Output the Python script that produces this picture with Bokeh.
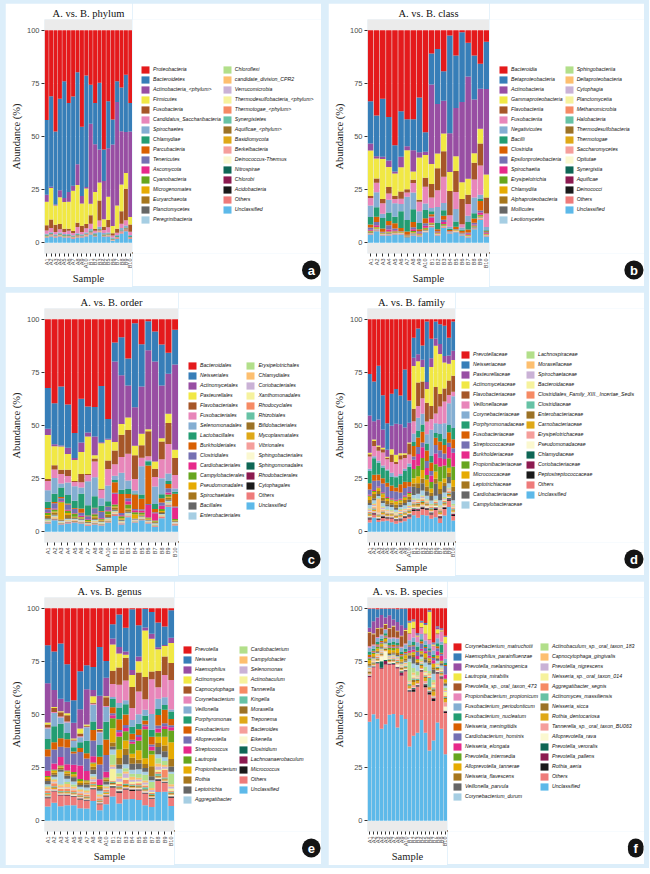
import math
from bokeh.plotting import figure
from bokeh.models import ColumnDataSource, Legend, LegendItem, Range1d, FixedTicker, Title, Spacer
from bokeh.layouts import column, row
from bokeh.embed import file_html
from bokeh.resources import INLINE

SERIF = "Liberation Serif"
SANS = "Liberation Sans"

samples = ["A1", "A2", "A3", "A4", "A5", "A6", "A7", "A8", "A9", "A10",
           "B1", "B2", "B3", "B4", "B5", "B6", "B7", "B8", "B9", "B10"]

PALETTE = ["#E41A1C", "#377EB8", "#984EA3", "#F1E844", "#A65628", "#E886BA", "#84AED2", "#239D72",
           "#D95F02", "#7570B3", "#E7298A", "#66A61E", "#E6AB02", "#A6761D", "#666666", "#A6CEE3",
           "#B2DF8A", "#FDBF6F", "#CAB2D6", "#F6F29D", "#F68A64", "#66C2A5", "#9C7226", "#DFA817",
           "#F59E9B", "#FBF8D0", "#0E6655", "#8C1A50", "#1A1A1A", "#EE7B7A", "#5DB9E9"]

# ---------------- phylum ----------------
phylum_names = ["Proteobacteria", "Bacteroidetes", "Actinobacteria_<phylum>", "Firmicutes", "Fusobacteria",
                "Candidatus_Saccharibacteria", "Spirochaetes", "Chlamydiae", "Parcubacteria", "Tenericutes",
                "Ascomycota", "Cyanobacteria", "Microgenomates", "Euryarchaeota", "Planctomycetes",
                "Peregrinibacteria", "Chloroflexi", "candidate_division_CPR2", "Verrucomicrobia",
                "Thermodesulfobacteria_<phylum>", "Thermotogae_<phylum>", "Synergistetes", "Aquificae_<phylum>",
                "Basidiomycota", "Berkelbacteria", "Deinococcus-Thermus", "Nitrospirae", "Chlorobi",
                "Acidobacteria", "Others", "Unclassified"]
phylum_values = [
    [42.6, 31.4, 48, 32.5, 24.2, 34.5, 31.4, 20, 45.7, 21.5, 26, 34.5, 25, 56.4, 33.7, 42.2, 24.2, 27.3, 21.2, 34.5],
    [35.4, 43, 34.5, 43.5, 55.3, 42.2, 42.2, 43.7, 32.8, 52.9, 18.5, 19.5, 31.7, 14.9, 22.3, 11.8, 9.8, 20.7, 27.3, 13.5],
    [3.3, 0.6, 0.5, 3.3, 1.8, 4.6, 2.4, 9.9, 3.5, 0.8, 38, 22.7, 15.7, 18.1, 23, 38.5, 49.1, 25.3, 19.5, 40.5],
    [11.2, 15, 9, 12.7, 12.7, 12.7, 19, 17.9, 10.5, 16.8, 5.5, 17.3, 8.6, 3.6, 11, 3.5, 10.9, 12.7, 7.5, 3.5],
    [2.5, 4, 3.5, 2.5, 1.5, 1, 1, 2, 3, 2, 4, 1, 9.5, 1.5, 3.5, 1, 2, 6, 15, 3.5],
    [1.5, 2, 1, 1.5, 1, 1.5, 1, 3, 1, 2, 2.5, 1, 3, 1.5, 2.5, 1, 1, 2, 2.5, 1.5],
    [0.5, 0.5, 0.5, 0.5, 0.5, 0.5, 0.5, 0.5, 0.5, 0.5, 0.8, 0.5, 1, 0.5, 0.5, 0.5, 0.5, 1, 1, 0.5],
    [0.3, 0.3, 0.2, 0.3, 0.2, 0.3, 0.2, 0.3, 0.2, 0.3, 0.4, 0.3, 0.3, 0.2, 0.3, 0.2, 0.3, 0.3, 0.4, 0.3],
    [0.1, 0.2, 0.1, 0.1, 0.1, 0.1, 0.1, 0.2, 0.1, 0.1, 0.1, 0.1, 0.2, 0.1, 0.1, 0.1, 0.1, 0.1, 0.2, 0.1],
    [0.1, 0.1, 0.1, 0.1, 0.1, 0.1, 0.1, 0.1, 0.1, 0.1, 0.2, 0.1, 0.1, 0.1, 0.1, 0.1, 0.1, 0.1, 0.1, 0.1],
    [.1, .05, .05, .1, .05, .05, .05, .1, .05, .1, .1, .05, .1, .05, .05, .05, .05, .1, .1, .05],
    [.05, .05, .05, .05, .05, .05, .05, .1, .05, .05, .1, .05, .05, .05, .05, .05, .05, .05, .1, .05],
    [.05, .1, .05, .05, .05, .05, .05, .05, .05, .1, .05, .05, .1, .05, .05, .05, .05, .05, .05, .05],
    [.05, .05, .05, .05, .1, .05, .05, .05, .05, .05, .05, .05, .05, .05, .1, .05, .05, .05, .05, .05],
    [.03, .05, .03, .05, .03, .03, .03, .05, .03, .05, .05, .03, .05, .03, .03, .03, .03, .05, .05, .03],
    [.03, .03, .03, .03, .03, .03, .03, .03, .03, .03, .05, .03, .03, .03, .03, .03, .03, .03, .05, .03],
    [.03, .03, .02, .03, .02, .03, .02, .03, .02, .03, .03, .03, .03, .02, .03, .02, .03, .03, .03, .03],
    [.02, .03, .02, .02, .02, .02, .02, .03, .02, .02, .03, .02, .03, .02, .02, .02, .02, .02, .03, .02],
    [.02, .02, .02, .02, .02, .02, .02, .02, .02, .02, .03, .02, .02, .02, .02, .02, .02, .02, .02, .02],
    [.02, .02, .01, .02, .02, .01, .02, .02, .01, .02, .02, .02, .02, .01, .02, .01, .02, .02, .02, .02],
    [.01, .02, .01, .01, .01, .01, .01, .02, .01, .01, .02, .01, .02, .01, .01, .01, .01, .01, .02, .01],
    [.02, .02, .01, .02, .01, .01, .01, .02, .01, .02, .02, .01, .02, .01, .01, .01, .01, .02, .02, .01],
    [.01, .01, .01, .01, .01, .01, .01, .01, .01, .01, .02, .01, .01, .01, .01, .01, .01, .01, .02, .01],
    [.02, .01, .01, .01, .01, .01, .01, .01, .01, .01, .01, .01, .01, .01, .01, .01, .01, .01, .01, .01],
    [.01, .01, .01, .01, .01, .01, .01, .01, .01, .01, .01, .01, .02, .01, .01, .01, .01, .01, .01, .01],
    [.01, .01, .01, .01, .01, .01, .01, .01, .01, .01, .01, .01, .01, .01, .01, .01, .01, .01, .01, .02],
    [.01, .01, .01, .01, .01, .01, .01, .01, .01, .01, .01, .01, .01, .01, .01, .01, .01, .01, .01, .01],
    [.01, .01, .01, .01, .01, .01, .01, .01, .01, .01, .01, .01, .01, .01, .01, .01, .01, .01, .01, .01],
    [.01, .01, .01, .01, .01, .01, .01, .01, .01, .01, .01, .01, .01, .01, .01, .01, .01, .01, .01, .01],
    [0.3, 0.4, 0.3, 0.4, 0.3, 0.3, 0.3, 0.4, 0.3, 0.4, 0.5, 0.3, 0.4, 0.3, 0.4, 0.2, 0.3, 0.5, 0.5, 0.3],
    [2.5, 3, 2.5, 3, 2.5, 2.5, 2, 2.5, 2.5, 3, 4, 3, 5, 3, 3, 1, 2, 4.5, 5.5, 2],
]

# ---------------- class ----------------
class_names = ["Bacteroidia", "Betaproteobacteria", "Actinobacteria", "Gammaproteobacteria", "Flavobacteriia",
               "Fusobacteriia", "Negativicutes", "Bacilli", "Clostridia", "Epsilonproteobacteria", "Spirochaetia",
               "Erysipelotrichia", "Chlamydiia", "Alphaproteobacteria", "Mollicutes", "Leotiomycetes",
               "Sphingobacteriia", "Deltaproteobacteria", "Cytophagia", "Planctomycetia", "Methanomicrobia",
               "Halobacteria", "Thermodesulfobacteria", "Thermotogae", "Saccharomycetes", "Opitutae",
               "Synergistia", "Aquificae", "Deinococci", "Others", "Unclassified"]
class_values = [
    [33.7, 40.3, 32.5, 41, 54.5, 38.7, 42.3, 42.3, 32, 48.3, 11.2, 9, 19.5, 2.5, 12, 1, 6, 12, 16, 5.5],
    [20, 19.2, 27.5, 20.5, 12.5, 21.8, 12.7, 14.7, 26, 9.2, 14.8, 26, 14, 46.5, 25, 33, 16, 21, 12, 22.5],
    [3.3, 1, 1, 3, 1, 5, 2, 10, 2.5, 1.5, 38, 23.5, 15.5, 18.5, 23, 38, 48.5, 25.5, 19, 40.5],
    [21.5, 9.5, 19, 9.5, 10.5, 11.5, 18.5, 4, 20, 10.8, 9.5, 7, 8.5, 9, 7, 8, 7.5, 4.5, 7, 11],
    [1, 2, 2, 3, 1.5, 3.5, 1.5, 1.5, 1, 4.2, 6.5, 10.5, 12, 11.5, 10, 12, 4.5, 8, 10.5, 7.5],
    [3.5, 4.5, 5, 3, 2, 2.5, 2, 4.5, 4.5, 8, 5, 8, 12.5, 5.5, 8, 1.5, 5.5, 8.5, 14, 6.5],
    [5.5, 7, 2, 6, 6.5, 3.5, 11, 8, 5.5, 3, 1.5, 7.5, 3.5, 1, 6, 1, 3, 7.5, 2, 1.5],
    [3.5, 4.5, 5, 4, 3, 8, 5.5, 6, 3, 4, 1.5, 3, 2.5, 0.5, 2.5, 0.5, 3.5, 2.5, 1, 0.5],
    [1.5, 2.5, 1.5, 2, 2.5, 1.5, 1.5, 2.5, 1, 2.3, 1, 1, 2, 0.5, 1, 1, 1.5, 2, 4.5, 0.5],
    [1, 1.5, 0.3, 2, 0.8, 0.2, 0.2, 1, 0.5, 1.2, 0.5, 0.3, 1, 0.1, 0.2, 0.2, 0.5, 0.8, 1, 0.3],
    [0.5, 0.8, 0.2, 1, 0.5, 0.1, 0.1, 0.8, 0.5, 1, 2.5, 0.3, 1, 0.1, 0.1, 0.1, 0.5, 0.5, 1, 0.4],
    [0.3, 0.3, 0.2, 0.3, 0.3, 0.2, 0.2, 0.4, 0.3, 0.4, 0.3, 0.2, 0.3, 0.1, 0.2, 0.1, 0.2, 0.3, 0.5, 0.2],
    [0.3, 0.4, 0.2, 0.3, 0.2, 0.2, 0.1, 0.3, 0.2, 0.3, 0.3, 0.2, 0.3, 0.1, 0.2, 0.1, 0.2, 0.2, 0.4, 0.2],
    [0.2, 0.3, 0.1, 0.2, 0.2, 0.1, 0.1, 0.3, 0.2, 0.3, 0.3, 0.2, 0.2, 0.1, 0.1, 0.1, 0.2, 0.2, 0.3, 0.1],
    [.2, .1, .1, .2, .1, .1, .1, .2, .1, .2, .2, .1, .2, .1, .1, .1, .1, .2, .2, .1],
    [.1, .1, .05, .1, .05, .05, .05, .1, .05, .1, .1, .05, .1, .05, .05, .05, .05, .1, .1, .05],
    [.05, .05, .05, .05, .05, .05, .05, .1, .05, .05, .1, .05, .05, .05, .05, .05, .05, .05, .1, .05],
    [.05, .1, .05, .05, .05, .05, .05, .05, .05, .1, .05, .05, .1, .05, .05, .05, .05, .05, .05, .05],
    [.05, .05, .05, .05, .1, .05, .05, .05, .05, .05, .05, .05, .05, .05, .1, .05, .05, .05, .05, .05],
    [.03, .05, .03, .05, .03, .03, .03, .05, .03, .05, .05, .03, .05, .03, .03, .03, .03, .05, .05, .03],
    [.03, .03, .03, .03, .03, .03, .03, .03, .03, .03, .05, .03, .03, .03, .03, .03, .03, .03, .05, .03],
    [.02, .03, .02, .02, .02, .02, .02, .03, .02, .02, .03, .02, .03, .02, .02, .02, .02, .02, .03, .02],
    [.02, .02, .02, .02, .02, .02, .02, .02, .02, .02, .03, .02, .02, .02, .02, .02, .02, .02, .02, .02],
    [.02, .02, .01, .02, .02, .01, .02, .02, .01, .02, .02, .02, .02, .01, .02, .01, .02, .02, .02, .02],
    [.01, .02, .01, .01, .01, .01, .01, .02, .01, .01, .02, .01, .02, .01, .01, .01, .01, .01, .02, .01],
    [.01, .01, .01, .01, .01, .01, .01, .01, .01, .01, .02, .01, .01, .01, .01, .01, .01, .01, .02, .01],
    [.01, .01, .01, .01, .01, .01, .01, .01, .01, .01, .01, .01, .02, .01, .01, .01, .01, .01, .01, .01],
    [.01, .01, .01, .01, .01, .01, .01, .01, .01, .01, .01, .01, .01, .01, .01, .01, .01, .01, .01, .02],
    [.01, .01, .01, .01, .01, .01, .01, .01, .01, .01, .01, .01, .01, .01, .01, .01, .01, .01, .01, .01],
    [0.3, 0.4, 0.3, 0.4, 0.3, 0.3, 0.2, 0.4, 0.3, 0.4, 0.5, 0.3, 0.4, 0.2, 0.3, 0.2, 0.3, 0.4, 0.5, 0.3],
    [4, 5.5, 3.5, 3.5, 4, 4, 2.5, 3.5, 3, 5, 7.5, 3.5, 7, 4.5, 5, 3.5, 2.5, 6.5, 11, 3],
]

# ---------------- order ----------------
order_names = ["Bacteroidales", "Neisseriales", "Actinomycetales", "Pasteurellales", "Flavobacteriales",
               "Fusobacteriales", "Selenomonadales", "Lactobacillales", "Burkholderiales", "Clostridiales",
               "Cardiobacteriales", "Campylobacterales", "Pseudomonadales", "Spirochaetales", "Bacillales",
               "Enterobacteriales", "Erysipelotrichales", "Chlamydiales", "Coriobacteriales", "Xanthomonadales",
               "Rhodocyclales", "Rhizobiales", "Bifidobacteriales", "Mycoplasmatales", "Vibrionales",
               "Sphingobacteriales", "Sphingomonadales", "Rhodobacterales", "Cytophagales", "Others", "Unclassified"]
order_values = [
    [33, 40, 32, 40.5, 54.5, 38, 42, 42, 31.5, 48, 11, 8.5, 19, 2, 12, 1, 6, 12, 16, 5],
    [19.5, 19.5, 28, 20.5, 12, 21, 12.5, 14, 26.5, 9.5, 9, 18, 13, 40.5, 20, 14, 14.5, 19.5, 10, 16.5],
    [3, 1, 0.5, 3, 1, 4.5, 2, 9, 0.5, 0.5, 38, 23, 15.5, 18.5, 22.5, 38, 48.5, 25, 19, 40.5],
    [21, 9, 11, 7.5, 10, 10.5, 18, 1.5, 21.5, 10, 4, 5, 6, 4.5, 5.5, 1, 3.5, 1.5, 4.5, 4],
    [1, 2, 2, 3, 0.5, 4, 0.5, 1.5, 0.5, 4, 6.5, 10.5, 11.5, 11.5, 6, 12, 4, 8.5, 10, 8],
    [4.5, 4, 4.5, 3, 2, 2.5, 3, 7.5, 4, 8, 5.5, 7.5, 13, 5.5, 4, 2, 4.5, 9, 14, 6.5],
    [5.5, 7.5, 2, 6, 7, 3, 11.5, 9, 3.5, 7.5, 2, 8, 4, 1.5, 13.5, 0.5, 8.5, 7.5, 3.5, 1.5],
    [3, 4, 4.5, 4, 3.5, 7, 5, 5.5, 2.5, 2.5, 1, 2, 2.5, 0.5, 2, 2, 2.5, 2, 1.5, 1],
    [0.5, 0.5, 0.5, 0.5, 0.3, 2, 0.3, 0.3, 0.3, 0.3, 5, 9, 2, 7, 5, 18.5, 1.5, 2, 2, 6],
    [1.5, 2.5, 1.5, 2.5, 2, 1.5, 1.5, 2.5, 3, 1.5, 0.5, 1, 1.5, 0.5, 0.5, 0.5, 0.5, 1.5, 2, 0.5],
    [0.3, 0.5, 0.3, 0.5, 0.3, 0.5, 0.3, 0.3, 0.3, 0.5, 5, 0.5, 1.5, 1, 1, 6, 3.5, 1.5, 1, 5.5],
    [1, 1, 0.3, 1, 1.5, 0.3, 0.5, 1, 0.5, 1.5, 1, 1, 2, 1, 1, 0.5, 0.5, 1, 1, 0.5],
    [0.5, 0.5, 8, 1, 0.3, 0.3, 0.3, 0.5, 0.3, 0.3, 0.5, 0.5, 0.5, 2, 0.3, 0.5, 0.3, 0.5, 0.5, 0.3],
    [1, 1, 0.5, 1.5, 0.5, 0.3, 0.3, 0.8, 0.5, 1, 1, 0.3, 1, 0.2, 0.3, 0.2, 0.3, 0.5, 1, 0.3],
    [0.5, 0.4, 0.3, 0.4, 0.3, 0.5, 0.3, 0.4, 0.3, 0.4, 0.5, 0.3, 0.5, 0.3, 0.3, 0.3, 0.3, 0.4, 0.5, 0.3],
    [0.4, 0.3, 0.3, 0.3, 0.2, 0.3, 0.2, 0.3, 0.2, 0.3, 0.3, 0.3, 0.4, 0.2, 0.3, 0.2, 0.2, 0.3, 0.4, 0.2],
    [0.3, 0.3, 0.2, 0.3, 0.3, 0.2, 0.2, 0.4, 0.3, 0.4, 0.3, 0.2, 0.3, 0.1, 0.2, 0.1, 0.2, 0.3, 0.5, 0.2],
    [0.3, 0.4, 0.2, 0.3, 0.2, 0.2, 0.1, 0.3, 0.2, 0.3, 0.3, 0.2, 0.3, 0.1, 0.2, 0.1, 0.2, 0.2, 0.4, 0.2],
    [0.2, 0.2, 0.1, 0.2, 0.1, 0.2, 0.1, 0.2, 0.1, 0.2, 0.3, 0.2, 0.2, 0.2, 0.2, 0.2, 0.2, 0.2, 0.3, 0.2],
    [.1, .1, .1, .1, .1, .1, .1, .1, .1, .1, .2, .1, .1, .2, .1, .2, .1, .1, .1, .1],
    [.1, .1, .05, .1, .05, .1, .05, .1, .05, .1, .1, .1, .1, .1, .1, .1, .05, .1, .1, .1],
    [.05, .05, .05, .05, .05, .05, .05, .1, .05, .05, .1, .05, .05, .05, .05, .05, .05, .05, .1, .05],
    [.05, .1, .05, .05, .05, .05, .05, .05, .05, .1, .05, .05, .1, .05, .05, .05, .05, .05, .05, .05],
    [.05, .05, .05, .05, .1, .05, .05, .05, .05, .05, .05, .05, .05, .05, .1, .05, .05, .05, .05, .05],
    [.03, .05, .03, .05, .03, .03, .03, .05, .03, .05, .05, .03, .05, .03, .03, .03, .03, .05, .05, .03],
    [.03, .03, .03, .03, .03, .03, .03, .03, .03, .03, .05, .03, .03, .03, .03, .03, .03, .03, .05, .03],
    [.02, .03, .02, .02, .02, .02, .02, .03, .02, .02, .03, .02, .03, .02, .02, .02, .02, .02, .03, .02],
    [.02, .02, .02, .02, .02, .02, .02, .02, .02, .02, .03, .02, .02, .02, .02, .02, .02, .02, .02, .02],
    [.02, .02, .01, .02, .02, .01, .02, .02, .01, .02, .02, .02, .02, .01, .02, .01, .02, .02, .02, .02],
    [0.4, 0.5, 0.4, 0.5, 0.4, 0.4, 0.3, 0.5, 0.4, 0.5, 0.6, 0.4, 0.5, 0.3, 0.4, 0.3, 0.4, 0.5, 0.6, 0.4],
    [4, 5.5, 3.5, 4, 4.5, 4, 3, 3.5, 3, 4.5, 7.5, 3.5, 7, 4.5, 5.5, 4, 2.5, 6.5, 12, 3],
]

# ---------------- family ----------------
family_names = ["Prevotellaceae", "Neisseriaceae", "Pasteurellaceae", "Actinomycetaceae", "Flavobacteriaceae",
                "Veillonellaceae", "Corynebacteriaceae", "Porphyromonadaceae", "Fusobacteriaceae",
                "Streptococcaceae", "Burkholderiaceae", "Propionibacteriaceae", "Micrococcaceae",
                "Leptotrichiaceae", "Cardiobacteriaceae", "Campylobacteraceae", "Lachnospiraceae",
                "Moraxellaceae", "Spirochaetaceae", "Bacteroidaceae", "Clostridiales_Family_XIII._Incertae_Sedis",
                "Clostridiaceae", "Enterobacteriaceae", "Carnobacteriaceae", "Erysipelotrichaceae",
                "Pseudomonadaceae", "Chlamydiaceae", "Coriobacteriaceae", "Peptostreptococcaceae",
                "Others", "Unclassified"]
family_values = [
    [26.5, 30.5, 23.5, 35.5, 51, 35, 34, 37, 23.5, 37, 9, 4, 11, 1, 9, 1, 2, 3, 9, 1],
    [20, 19.5, 27, 16, 13, 15, 17, 14, 27, 10, 9.5, 11, 6, 26, 9, 7, 8, 14, 8.5, 13],
    [18, 9, 13, 8.5, 3.5, 11, 15, 14, 12, 9, 4, 3, 3, 3, 4, 3, 4, 3, 4, 4],
    [0.7, 0.7, 0.7, 0.7, 0.5, 2.5, 3.5, 1, 0.7, 0.5, 20.5, 9, 6, 6, 18, 17, 16, 12, 8, 7],
    [1, 2.5, 2, 1.5, 0.7, 3.5, 1, 2, 1.5, 5, 6, 10, 7, 8, 6, 11, 5, 6, 7, 7],
    [6, 5, 5, 6, 5, 5, 6, 7, 5, 4, 6, 5, 6.5, 5.5, 5, 4, 7, 10, 4, 2],
    [1, 1, 1, 1, 0.5, 2, 0.5, 1, 1, 1.5, 4, 5.5, 4.5, 4, 12, 4, 4, 7, 10.5, 14],
    [6, 8, 6, 5, 6, 4, 5, 4, 5, 7, 2, 3, 3, 3, 3, 2, 3, 3, 3.5, 5],
    [3, 3, 3, 2.5, 2, 2.5, 2, 4, 3, 2, 5, 4, 4.5, 4.5, 4, 3, 3.5, 4, 5, 4],
    [2.5, 4.5, 3, 4, 5, 3.5, 4, 3, 3.5, 2.5, 1.5, 3, 2, 3, 2, 3.5, 3, 2.5, 2, 2],
    [0.5, 0.5, 0.5, 0.5, 0.5, 0.5, 0.5, 0.5, 0.5, 0.5, 4.5, 5, 4.5, 3, 3, 4.5, 3.5, 3, 5.5, 6],
    [0.5, 0.5, 0.3, 0.5, 0.5, 0.5, 0.3, 0.5, 0.5, 0.5, 4.5, 4.5, 5, 2, 3, 3, 6, 6, 4.5, 6],
    [1.5, 1, 1.5, 1.5, 1, 1, 1.5, 1, 1, 1, 2.5, 3, 3.5, 3, 2, 3, 3, 2, 2.5, 3],
    [1.5, 2, 1.5, 1.5, 1.5, 1, 1.5, 1, 1.5, 1.5, 1.5, 2, 2, 2, 1.5, 2, 2, 1.5, 2, 2],
    [1, 1, 1, 1, 1, 1, 1, 1, 1, 1, 4, 2.5, 3, 2, 2, 5, 2.5, 3, 3, 4],
    [1.5, 1.5, 1, 1.5, 1.5, 1.5, 1, 1, 1.5, 1.5, 1.5, 2, 2, 1.5, 1.5, 1.5, 2, 2, 2, 1.5],
    [0.5, 0.4, 0.3, 0.5, 0.4, 0.3, 0.4, 0.5, 0.3, 0.4, 0.6, 0.5, 0.4, 0.5, 0.6, 0.4, 0.5, 0.6, 0.5, 0.8],
    [0.4, 0.5, 7, 0.4, 0.3, 0.4, 0.3, 0.5, 0.3, 0.4, 0.3, 0.4, 0.3, 0.4, 0.3, 0.3, 0.4, 0.3, 0.4, 0.3],
    [0.5, 0.6, 0.3, 0.6, 0.4, 0.2, 0.2, 0.5, 0.4, 0.5, 0.8, 0.3, 0.6, 0.2, 0.3, 0.2, 0.4, 0.4, 0.6, 0.3],
    [0.4, 0.5, 0.3, 0.4, 0.5, 0.3, 0.4, 0.4, 0.3, 0.5, 0.3, 0.3, 0.4, 0.2, 0.3, 0.2, 0.3, 0.4, 0.4, 0.3],
    [0.5, 0.6, 0.4, 0.6, 0.5, 0.4, 0.5, 0.6, 0.5, 0.5, 0.6, 0.5, 0.7, 0.4, 0.5, 0.4, 0.5, 0.6, 0.8, 0.5],
    [0.3, 0.4, 0.3, 0.3, 0.3, 0.2, 0.3, 0.4, 0.3, 0.3, 0.3, 0.3, 0.4, 0.2, 0.3, 0.2, 0.3, 0.3, 0.4, 0.3],
    [0.4, 0.3, 0.3, 0.4, 0.3, 0.3, 0.3, 0.3, 0.3, 0.4, 0.5, 0.6, 0.5, 0.4, 0.5, 0.4, 0.5, 0.5, 0.6, 0.5],
    [0.6, 0.5, 0.5, 0.6, 0.5, 0.6, 0.5, 0.6, 0.5, 0.5, 0.6, 0.5, 0.6, 0.4, 0.5, 0.4, 0.6, 0.5, 0.6, 0.5],
    [0.3, 0.4, 0.3, 0.3, 0.3, 0.3, 0.2, 0.4, 0.3, 0.3, 0.4, 0.3, 0.4, 0.3, 0.3, 0.2, 0.3, 0.4, 0.4, 0.3],
    [0.4, 0.3, 0.5, 0.3, 0.2, 0.3, 0.3, 0.3, 0.3, 0.3, 0.5, 0.5, 0.4, 0.6, 0.4, 0.5, 0.4, 0.5, 0.4, 0.5],
    [0.3, 0.3, 0.2, 0.3, 0.2, 0.2, 0.2, 0.3, 0.2, 0.3, 0.3, 0.2, 0.3, 0.2, 0.2, 0.2, 0.2, 0.3, 0.3, 0.2],
    [0.4, 0.3, 0.3, 0.4, 0.3, 0.4, 0.3, 0.3, 0.4, 0.3, 0.4, 0.4, 0.3, 0.4, 0.3, 0.4, 0.4, 0.3, 0.4, 0.5],
    [0.4, 0.4, 0.3, 0.4, 0.4, 0.3, 0.4, 0.5, 0.3, 0.4, 0.6, 0.4, 0.5, 0.3, 0.5, 0.6, 0.4, 0.5, 0.6, 0.4],
    [1.5, 1.5, 1, 1.5, 1, 1.5, 1.5, 1, 1.5, 1, 2, 3, 2.5, 2.5, 2, 3, 2, 3, 3, 2],
    [4.5, 7, 5, 5, 5.5, 4.5, 4, 4.5, 5, 6, 8, 6, 7, 7, 6, 6, 3.5, 7.5, 12, 5],
]

# ---------------- genus ----------------
genus_names = ["Prevotella", "Neisseria", "Haemophilus", "Actinomyces", "Capnocytophaga", "Corynebacterium",
               "Veillonella", "Porphyromonas", "Fusobacterium", "Alloprevotella", "Streptococcus", "Lautropia",
               "Propionibacterium", "Rothia", "Leptotrichia", "Aggregatibacter", "Cardiobacterium",
               "Campylobacter", "Selenomonas", "Actinobaculum", "Tannerella", "Kingella", "Moraxella",
               "Treponema", "Bacteroides", "Eikenella", "Clostridium", "Lachnoanaerobaculum", "Micrococcus",
               "Others", "Unclassified"]
genus_values = [
    [18, 21.5, 17, 27, 44.5, 32.5, 27.5, 28, 20, 27, 8, 3, 9.5, 0.5, 9, 0.5, 2, 7, 9.5, 1],
    [18.5, 19, 26.5, 18, 11, 19.5, 11.5, 11, 25, 8.5, 7, 15, 11.5, 30.5, 16.5, 9.5, 11, 12, 9.5, 13],
    [19, 8.5, 6, 5.5, 7.5, 10, 17, 3, 17, 9.5, 3, 3, 1.5, 2.5, 2.5, 1.5, 2.5, 1, 0.5, 2.5],
    [1, 0.5, 0.5, 1, 0.5, 2.5, 0.5, 3, 0.5, 0.5, 13, 6.5, 1.5, 6, 6, 24, 16.5, 10.5, 5.5, 9.5],
    [1.5, 2, 2, 3, 0.5, 1.5, 0.5, 0.5, 1, 4.5, 6.5, 8, 11, 10.5, 10, 11.5, 4, 8, 9.5, 8],
    [0.5, 0.5, 0.5, 0.5, 0.3, 0.5, 0.3, 0.5, 0.3, 0.5, 6.5, 8.5, 9.5, 6, 12, 5.5, 17.5, 5.5, 11.5, 14],
    [5, 6.5, 3, 5, 3, 2.5, 6.5, 8, 6.5, 7.5, 1, 2, 2, 3.5, 5, 3, 8, 5, 4, 1],
    [5, 8, 7, 3, 2, 3, 6, 4, 6, 9, 4, 5.5, 5, 3.5, 3, 2.5, 3.5, 3, 2.5, 3.5],
    [3.5, 3.5, 4, 4, 1, 2, 2.5, 5, 4, 8, 3, 5, 5, 3, 3, 2, 4, 5, 7, 3],
    [7, 7, 5, 8, 5.5, 7, 6, 7.5, 7.5, 8.5, 1, 1, 1.5, 1, 1, 1, 1, 1.5, 1.5, 1],
    [2.5, 3, 4, 3, 3.5, 7, 4.5, 3, 3, 3, 1.5, 2, 1.5, 1, 2, 1.5, 2, 2, 1.5, 1.5],
    [0.5, 0.5, 0.5, 0.5, 1, 1, 0.5, 0.5, 0.5, 0.5, 5, 6, 4.5, 5, 5, 15, 2, 2, 4, 5.5],
    [1, 1, 0.5, 1, 1, 1, 0.5, 1.5, 0.5, 0.5, 7, 4, 4, 2, 5, 3, 6, 3, 4.5, 8],
    [1, 1, 1, 1, 0.5, 1, 1, 1.5, 1, 1, 2, 3, 3, 3, 2, 2, 5, 2, 3, 3.5],
    [1.5, 1, 1, 1.5, 2, 1, 1.5, 2, 1, 1.5, 1.5, 2, 4.5, 3, 3, 2, 2, 3.5, 3, 2.5],
    [1, 1, 6, 1.5, 1.5, 1, 1, 1, 1.5, 0.5, 2.5, 2, 2, 2, 2.5, 1.5, 1, 2, 2, 1],
    [0.5, 0.5, 0.5, 1, 1, 0.5, 0.5, 0.5, 0.5, 0.5, 5, 1.5, 1.5, 1.5, 2, 3, 3, 2.5, 2, 5],
    [1, 1, 1, 1.5, 1, 1, 1, 1, 1, 1, 1, 1, 1, 1.5, 1, 1, 1, 1.5, 1, 1],
    [0.5, 0.5, 0.5, 0.5, 0.5, 0.5, 0.5, 1, 0.5, 0.5, 1, 1.5, 2, 1, 1, 1, 1, 1.5, 1, 1],
    [0.3, 0.3, 0.3, 0.3, 0.3, 0.3, 0.3, 0.3, 0.3, 0.3, 6, 1, 1, 1, 1, 0.5, 0.5, 1, 0.5, 1],
    [1, 1.5, 1, 1, 1, 1, 1, 1, 1, 1, 0.5, 1, 2, 0.5, 1, 1, 0.5, 1, 4, 0.5],
    [0.3, 0.5, 0.3, 0.3, 0.3, 0.3, 0.3, 0.3, 0.3, 0.3, 0.5, 0.5, 0.5, 0.5, 0.5, 1, 0.5, 1, 0.5, 0.5],
    [0.3, 0.3, 0.4, 0.3, 0.3, 0.3, 0.4, 0.3, 0.3, 0.3, 0.5, 0.5, 0.5, 0.6, 0.5, 0.5, 0.5, 0.5, 0.5, 0.5],
    [0.5, 0.5, 0.3, 0.5, 0.3, 0.3, 0.3, 0.5, 0.3, 0.5, 0.3, 0.3, 0.5, 0.3, 0.3, 0.3, 0.3, 0.3, 0.5, 0.3],
    [0.3, 0.4, 0.3, 0.3, 0.3, 0.3, 0.3, 0.4, 0.3, 0.3, 0.3, 0.4, 0.3, 0.3, 0.3, 0.3, 0.3, 0.3, 0.4, 0.3],
    [0.3, 0.3, 0.3, 0.3, 0.5, 0.3, 0.3, 0.3, 0.3, 0.3, 0.5, 0.5, 0.3, 0.5, 0.5, 0.5, 0.3, 0.3, 0.3, 0.5],
    [0.3, 0.2, 0.2, 0.3, 0.2, 0.2, 0.2, 0.3, 0.2, 0.2, 0.2, 0.2, 0.2, 0.2, 0.2, 0.2, 0.2, 0.3, 0.2, 0.2],
    [0.3, 0.2, 0.3, 0.2, 0.2, 0.3, 0.2, 0.2, 0.2, 0.2, 0.2, 0.2, 0.3, 0.2, 0.2, 0.2, 0.2, 0.2, 0.2, 0.2],
    [0.2, 0.2, 0.2, 0.2, 0.2, 0.2, 0.2, 0.2, 0.2, 0.2, 0.3, 0.5, 0.3, 0.5, 0.3, 0.3, 0.3, 0.5, 0.3, 0.3],
    [4, 5.5, 5, 4.5, 4, 4.5, 3.5, 5.5, 3, 4, 4.5, 5, 4.5, 4, 5, 6, 4, 5.5, 4.5, 4],
    [7, 9, 7, 7.5, 7.5, 6.5, 6, 9.5, 5.5, 8.5, 12, 8, 10.5, 11, 11, 8, 7, 14, 15, 7],
]

# ---------------- species ----------------
species_names = ["Corynebacterium_matruchotii", "Haemophilus_parainfluenzae", "Prevotella_melaninogenica",
                 "Lautropia_mirabilis", "Prevotella_sp._oral_taxon_473", "Propionibacterium_propionicum",
                 "Fusobacterium_periodonticum", "Fusobacterium_nucleatum", "Neisseria_meningitidis",
                 "Cardiobacterium_hominis", "Neisseria_elongata", "Prevotella_intermedia",
                 "Alloprevotella_tannerae", "Neisseria_flavescens", "Veillonella_parvula",
                 "Corynebacterium_durum", "Actinobaculum_sp._oral_taxon_183", "Capnocytophaga_gingivalis",
                 "Prevotella_nigrescens", "Neisseria_sp._oral_taxon_014", "Aggregatibacter_segnis",
                 "Actinomyces_massiliensis", "Neisseria_sicca", "Rothia_dentocariosa",
                 "Tannerella_sp._oral_taxon_BU063", "Alloprevotella_rava", "Prevotella_veroralis",
                 "Prevotella_pallens", "Rothia_aeria", "Others", "Unclassified"]
species_values = [
    [0.3, 0.3, 0.5, 0.3, 0.3, 0.3, 0.3, 0.5, 0.3, 0.3, 6, 5, 12, 6, 7, 1, 16, 9, 10, 13],
    [9, 6, 4, 3, 4, 3, 5, 6, 8, 9, 0.5, 0.5, 0.5, 0.5, 0.5, 0.5, 0.5, 0.5, 0.5, 0.3],
    [2, 6, 5, 6, 3, 6, 3, 4, 5, 1, 0.5, 0.5, 0.5, 0.5, 0.5, 0.3, 0.5, 1, 0.5, 0.3],
    [0.3, 0.3, 0.3, 0.3, 0.3, 0.3, 0.3, 0.3, 0.3, 0.3, 5, 3, 0.5, 2, 4, 13, 0.5, 2, 0.5, 3],
    [6.5, 5, 4, 3, 2, 4, 5, 3, 5, 6, 0.3, 0.3, 0.3, 0.3, 0.3, 0.3, 0.3, 0.5, 0.3, 0.3],
    [0.5, 0.5, 0.5, 0.5, 0.5, 0.5, 0.5, 0.5, 0.5, 0.5, 3, 4, 2.5, 3, 3, 2, 2, 2, 5, 7],
    [2, 1.5, 2, 1.5, 1.5, 2, 1.5, 2, 2, 2, 2, 2, 2, 2.5, 2, 2, 2, 2.5, 1.5, 2],
    [1.5, 1, 1, 1, 1, 1, 1.5, 1, 1, 1.5, 0.5, 1.5, 2, 1, 1, 1, 1, 1.5, 4, 1],
    [1, 0.5, 0.5, 0.5, 0.5, 0.5, 1, 0.5, 0.5, 0.5, 0.5, 0.5, 0.5, 1, 0.5, 0.5, 0.5, 1, 0.5, 0.5],
    [0.3, 0.3, 0.3, 0.3, 0.3, 0.3, 0.3, 0.3, 0.3, 0.3, 2, 1.5, 2, 2.5, 1.5, 2, 1, 1.5, 1, 4],
    [0.3, 0.3, 0.3, 0.3, 0.3, 0.3, 0.3, 0.3, 0.3, 0.3, 1, 1, 1.5, 1, 1, 1, 1.5, 2, 2.5, 2],
    [1, 0.5, 1, 0.5, 0.5, 1, 1, 0.5, 1.5, 0.5, 0.3, 0.3, 0.3, 0.3, 0.3, 0.3, 0.3, 0.3, 0.3, 0.3],
    [1.5, 1, 1, 1, 1, 1.5, 1, 2, 1, 1.5, 0.5, 1, 1, 1, 1.5, 1, 1.5, 1, 0.5, 1.5],
    [1, 0.5, 0.5, 0.5, 0.5, 0.5, 0.5, 1, 0.5, 1, 0.5, 1, 0.5, 0.5, 1, 1, 1, 0.5, 0.5, 0.5],
    [0.5, 0.5, 0.5, 0.5, 0.5, 0.5, 0.5, 0.5, 0.5, 0.5, 1.5, 3, 1, 1, 1.5, 1, 2, 1, 1, 1],
    [0.5, 0.3, 0.3, 0.3, 0.3, 0.3, 0.3, 0.3, 0.3, 0.5, 1.5, 2, 3, 1, 2, 3, 3, 1, 1, 1],
    [0.2, 0.2, 0.2, 0.2, 0.2, 0.2, 0.2, 0.2, 0.2, 0.2, 9, 2, 2, 1, 2, 1, 1, 0.5, 0.5, 1],
    [0.5, 0.5, 1, 0.5, 0.5, 0.5, 0.5, 0.5, 0.5, 0.5, 0.5, 1, 0.5, 0.5, 0.5, 1, 1, 0.5, 0.5, 0.5],
    [0.5, 0.3, 0.3, 0.5, 0.5, 0.3, 0.5, 0.5, 0.3, 0.3, 0.3, 0.3, 0.3, 0.3, 0.3, 0.3, 0.3, 0.3, 0.3, 0.3],
    [0.3, 0.3, 0.3, 0.3, 0.3, 0.3, 0.3, 0.3, 0.3, 0.3, 0.5, 1, 0.5, 0.3, 1, 0.5, 1, 0.5, 0.5, 2],
    [0.3, 0.5, 0.5, 0.5, 0.5, 0.3, 0.3, 0.5, 0.3, 0.3, 0.3, 0.5, 0.3, 0.3, 0.5, 0.5, 0.5, 0.3, 0.3, 0.5],
    [0.3, 0.3, 0.3, 0.3, 0.3, 0.3, 0.3, 0.3, 0.3, 0.3, 0.5, 0.5, 0.5, 0.5, 0.5, 4, 0.5, 0.5, 0.5, 0.5],
    [0.5, 0.5, 0.5, 0.5, 0.5, 0.5, 0.5, 0.5, 0.5, 0.5, 0.5, 1, 0.5, 0.5, 0.5, 0.5, 1, 0.5, 0.5, 0.5],
    [0.3, 0.3, 0.3, 0.3, 0.3, 0.3, 0.3, 0.3, 0.3, 0.3, 1, 1.5, 1, 1, 1.5, 1, 2, 0.5, 0.5, 1.5],
    [0.5, 0.3, 0.3, 0.3, 0.3, 0.3, 0.3, 0.5, 0.3, 0.3, 0.5, 1, 0.5, 0.5, 1, 0.5, 0.5, 0.5, 0.5, 2],
    [0.3, 0.3, 0.5, 2.5, 4, 0.5, 0.5, 1, 0.5, 0.3, 0.3, 0.3, 0.3, 0.3, 0.3, 0.3, 0.3, 0.3, 0.3, 2],
    [0.3, 0.3, 0.3, 3, 0.5, 0.3, 0.3, 0.3, 0.5, 0.3, 0.3, 0.3, 0.3, 0.3, 0.3, 0.3, 0.3, 0.3, 0.3, 0.3],
    [0.5, 0.3, 0.3, 0.5, 1.5, 0.3, 0.5, 0.5, 1.5, 0.3, 0.3, 0.3, 0.3, 0.3, 0.3, 0.3, 0.3, 0.3, 0.3, 0.3],
    [0.1, 0.1, 0.1, 0.1, 0.1, 0.1, 0.1, 0.1, 0.1, 0.1, 0.3, 1, 0.3, 0.3, 1, 1, 1, 0.3, 0.5, 0.5],
    [21, 22.5, 26.5, 28.5, 27.5, 23, 23, 27.5, 19, 22.5, 26, 20, 22, 23, 21.5, 26.5, 18.5, 24.5, 25, 19.5],
    [47, 51.5, 49, 44, 44.5, 49, 50, 43.5, 51, 48, 35.5, 38.5, 42, 48, 41.5, 33.5, 37.5, 49, 46, 31.5],
]

PANEL_W = 316
PANEL_H = 283
LEFT = 39
TOP = 16
BOTTOM = 33
FRAME_H = PANEL_H - TOP - BOTTOM
ROW_PITCH = 10
BG = "#DCEEFA"


def make_panel(title, names, values, letter, frame_w, leg_gap, leg_shift):
    keys = ["s%d" % i for i in range(len(names))]
    n = len(samples)
    totals = [sum(v[j] for v in values) for j in range(n)]
    data = {"sample": samples}
    for k, v in zip(keys, values):
        data[k] = [100.0 * v[j] / totals[j] for j in range(n)]
    src = ColumnDataSource(data)
    colors = PALETTE[:len(names)]

    leg_w = PANEL_W - LEFT - frame_w

    p = figure(frame_width=frame_w, frame_height=FRAME_H, x_range=samples, y_range=Range1d(-5, 105),
               output_backend="svg", toolbar_location=None, title=title,
               min_border_left=LEFT, min_border_right=0, min_border_top=TOP, min_border_bottom=BOTTOM)
    p.vbar_stack(keys[::-1], x="sample", width=0.9, source=src,
                 fill_color=colors[::-1], line_color=None)

    p.background_fill_color = "#EBEBEB"
    p.border_fill_color = "white"
    p.outline_line_color = None
    p.xgrid.grid_line_color = None
    yt = FixedTicker(ticks=[0, 25, 50, 75, 100], minor_ticks=[])
    p.yaxis.ticker = yt
    p.ygrid.ticker = yt
    p.ygrid.grid_line_color = "white"
    p.axis.axis_line_color = None
    p.axis.major_tick_line_color = "#333333"
    p.axis.major_tick_out = 3
    p.axis.major_tick_in = 0
    p.axis.minor_tick_line_color = None
    p.axis.major_label_text_color = "#4D4D4D"
    p.axis.major_label_text_font = SANS
    p.yaxis.major_label_text_font_size = "7.5px"
    p.xaxis.major_label_text_font_size = "5.5px"
    p.xaxis.major_label_orientation = math.pi / 2
    p.axis.major_label_standoff = 2
    p.yaxis.axis_label = "Abundance (%)"
    p.xaxis.axis_label = "Sample"
    p.axis.axis_label_text_font = SERIF
    p.axis.axis_label_text_font_size = "10.5px"
    p.axis.axis_label_text_font_style = "normal"
    p.axis.axis_label_text_color = "#222222"
    p.axis.axis_label_standoff = 2
    p.title.text_font = SERIF
    p.title.text_font_size = "10.5px"
    p.title.text_font_style = "normal"
    p.title.align = "center"
    p.title.text_color = "#111111"
    p.title.standoff = 1
    p.title.offset = 0

    # side area with the legend and the panel letter; frame matches the plot frame
    lf = figure(frame_width=leg_w, frame_height=FRAME_H, x_range=Range1d(0, leg_w),
                y_range=Range1d(0, FRAME_H), output_backend="svg", toolbar_location=None,
                x_axis_type=None, y_axis_type=None,
                min_border_left=0, min_border_right=0, min_border_top=TOP, min_border_bottom=BOTTOM)
    lf.background_fill_color = "white"
    lf.border_fill_color = "white"
    lf.outline_line_color = None
    keys_r = [lf.vbar(x=[-1000], bottom=[0], top=[1], width=1, fill_color=c, line_color=None)
              for c in colors]
    items = [LegendItem(label=nm, renderers=[r]) for nm, r in zip(names, keys_r)]
    nrows = (len(names) + 1) // 2
    leg_h = nrows * ROW_PITCH - 1
    leg_y = FRAME_H / 2.0 - leg_shift - leg_h / 2.0
    leg = Legend(items=items, ncols=2, orientation="vertical", location=(leg_gap, leg_y),
                 label_text_font=SANS, label_text_font_size="5.2px", label_text_font_style="italic",
                 label_text_color="#111111",
                 glyph_width=10, glyph_height=9, label_height=9, label_standoff=3,
                 spacing=ROW_PITCH - 9, padding=0, margin=0,
                 border_line_color=None, background_fill_alpha=0)
    lf.add_layout(leg)

    badge = Title(text="\u00a0" + letter + "\u00a0", align="right", text_color="white",
                  text_font=SANS, text_font_style="bold", text_font_size="13px",
                  background_fill_color="#141414", border_radius=10, padding=2,
                  standoff=10, offset=1)
    lf.add_layout(badge, "below")
    return row(p, lf, spacing=0)


pa = make_panel("A. vs. B. phylum", phylum_names, phylum_values, "a", 88, 8, 8)
pb = make_panel("A. vs. B. class", class_names, class_values, "b", 122, 9, 8)
pc = make_panel("A. vs. B. order", order_names, order_values, "c", 134, 9, 15)
pd = make_panel("A. vs. B. family", family_names, family_values, "d", 88, 5, 4)
pe = make_panel("A. vs. B. genus", genus_names, genus_values, "e", 130, 8, 10)
pf = make_panel("A. vs. B. species", species_names, species_values, "f", 80, 5, 7)


def panel_row(left, right):
    return row(Spacer(width=5, height=PANEL_H), left, Spacer(width=7, height=PANEL_H), right,
               Spacer(width=5, height=PANEL_H), spacing=0)


layout = column(Spacer(width=649, height=3), panel_row(pa, pb), Spacer(width=649, height=5),
                panel_row(pc, pd), Spacer(width=649, height=5), panel_row(pe, pf),
                Spacer(width=649, height=3), spacing=0, styles={"background-color": BG})

open("out.html", "w").write(file_html(layout, INLINE))
